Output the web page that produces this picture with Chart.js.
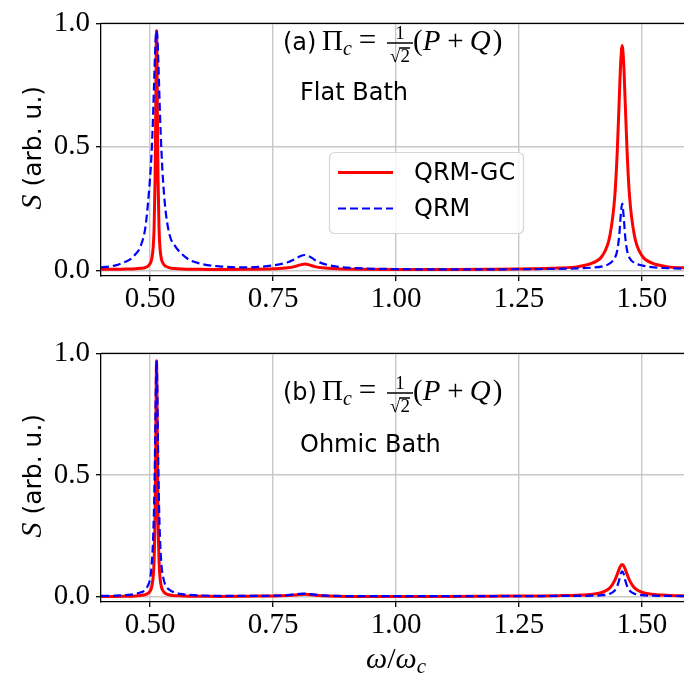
<!DOCTYPE html>
<html>
<head>
<meta charset="utf-8">
<script src="https://cdn.jsdelivr.net/npm/chart.js@4.4.1/dist/chart.umd.min.js"></script>
<style>
  html, body { margin: 0; padding: 0; background: #fff; overflow: hidden; }
  #wrap { position: relative; width: 684px; height: 681px; overflow: hidden; }
  .panel { position: absolute; left: 0; width: 700px; }
  #topBox { top: 0; height: 330px; }
  #botBox { top: 330px; height: 351px; }
</style>
</head>
<body>
<div id="wrap">
  <div class="panel" id="topBox"><canvas id="chartA" width="700" height="330"></canvas></div>
  <div class="panel" id="botBox"><canvas id="chartB" width="700" height="351"></canvas></div>
</div>
<script>
// frequency grid (omega / omega_c), denser around the resonances
const omega = [0.40, 0.43, 0.45, 0.46, 0.47, 0.48, 0.49, 0.495, 0.50, 0.503,
  0.506, 0.508, 0.510, 0.511, 0.512, 0.513, 0.514, 0.515, 0.516, 0.518,
  0.520, 0.523, 0.527, 0.532, 0.54, 0.55, 0.565, 0.58, 0.60, 0.64,
  0.70, 0.75, 0.78, 0.795, 0.805, 0.815, 0.825, 0.835, 0.85, 0.88,
  0.93, 1.00, 1.10, 1.20, 1.28, 1.33, 1.37, 1.40, 1.42, 1.435,
  1.445, 1.450, 1.454, 1.457, 1.460, 1.463, 1.466, 1.470, 1.475, 1.485,
  1.50, 1.52, 1.55, 1.60];

// (a) flat bath
const flatGC = [0.004, 0.004, 0.005, 0.005, 0.006, 0.008, 0.011, 0.016, 0.028, 0.045,
  0.09, 0.17, 0.37, 0.56, 0.82, 0.97, 0.82, 0.56, 0.37, 0.17,
  0.09, 0.045, 0.026, 0.016, 0.010, 0.007, 0.005, 0.004, 0.004, 0.003,
  0.004, 0.006, 0.010, 0.016, 0.022, 0.026, 0.021, 0.015, 0.010, 0.006,
  0.004, 0.003, 0.003, 0.004, 0.006, 0.009, 0.015, 0.030, 0.060, 0.14,
  0.30, 0.48, 0.69, 0.84, 0.91, 0.84, 0.69, 0.48, 0.30, 0.14,
  0.060, 0.030, 0.015, 0.009];
const flatQRM = [0.012, 0.020, 0.035, 0.045, 0.065, 0.095, 0.17, 0.26, 0.38, 0.48,
  0.63, 0.76, 0.88, 0.93, 0.96, 0.97, 0.96, 0.93, 0.88, 0.76,
  0.63, 0.48, 0.34, 0.23, 0.14, 0.10, 0.065, 0.042, 0.028, 0.016,
  0.012, 0.020, 0.033, 0.046, 0.057, 0.062, 0.055, 0.042, 0.028, 0.015,
  0.008, 0.005, 0.004, 0.004, 0.005, 0.006, 0.008, 0.011, 0.016, 0.028,
  0.05, 0.08, 0.14, 0.22, 0.27, 0.22, 0.14, 0.08, 0.05, 0.03,
  0.02, 0.013, 0.009, 0.006];

// (b) ohmic bath
const ohmicGC = [0.002, 0.002, 0.003, 0.003, 0.004, 0.006, 0.009, 0.014, 0.024, 0.04,
  0.08, 0.15, 0.33, 0.52, 0.80, 0.97, 0.80, 0.52, 0.33, 0.15,
  0.08, 0.04, 0.022, 0.013, 0.008, 0.005, 0.004, 0.003, 0.003, 0.002,
  0.003, 0.004, 0.006, 0.008, 0.010, 0.011, 0.009, 0.007, 0.005, 0.003,
  0.002, 0.002, 0.002, 0.003, 0.004, 0.005, 0.007, 0.011, 0.019, 0.037,
  0.068, 0.093, 0.115, 0.128, 0.133, 0.128, 0.115, 0.093, 0.068, 0.037,
  0.019, 0.011, 0.007, 0.004];
const ohmicQRM = [0.004, 0.005, 0.007, 0.009, 0.012, 0.018, 0.028, 0.045, 0.075, 0.13,
  0.24, 0.38, 0.62, 0.78, 0.91, 0.97, 0.91, 0.78, 0.62, 0.38,
  0.24, 0.13, 0.075, 0.045, 0.028, 0.018, 0.011, 0.008, 0.006, 0.004,
  0.004, 0.005, 0.007, 0.010, 0.012, 0.013, 0.011, 0.009, 0.006, 0.004,
  0.003, 0.003, 0.003, 0.003, 0.003, 0.004, 0.004, 0.005, 0.007, 0.013,
  0.026, 0.044, 0.07, 0.095, 0.105, 0.095, 0.07, 0.044, 0.026, 0.013,
  0.007, 0.005, 0.004, 0.003];

const xTicks = [0.5, 0.75, 1.0, 1.25, 1.5];
const yTicks = [0, 0.5, 1.0];
const seriesNames = ["QRM-GC", "QRM"];

const RED = "#ff0000";
const BLUE = "#0000ff";
const SERIF = s => `${s}px "Liberation Serif"`;
const SERIF_I = s => `italic ${s}px "Liberation Serif"`;
const SANS = s => `${s}px "DejaVu Sans"`;

function put(ctx, text, x, y, font, align) {
  ctx.font = font;
  ctx.textAlign = align || "left";
  ctx.fillText(text, x, y);
  return ctx.measureText(text).width;
}

// (a) Π_c = 1/√2 (P + Q)
function drawFormula(ctx, tag, base) {
  ctx.fillStyle = "#000";
  ctx.textBaseline = "alphabetic";
  put(ctx, tag, 283, base, SANS(24));
  const xPi = 322;
  const wPi = put(ctx, "\u03A0", xPi, base, SERIF(29));
  put(ctx, "c", xPi + wPi, base + 5, SERIF_I(20));
  put(ctx, "=", 367.5, base, SERIF(31), "center");
  const x = 387, fw = 26, cx = x + fw / 2;
  put(ctx, "1", cx, base - 11, SERIF(19), "center");
  ctx.font = SERIF(19);
  const wAll = ctx.measureText("\u221A2").width;
  const wRad = ctx.measureText("\u221A").width;
  put(ctx, "\u221A2", cx, base + 12.5, SERIF(19), "center");
  ctx.strokeStyle = "#000";
  ctx.lineWidth = 1.3;
  ctx.beginPath();
  ctx.moveTo(x, base - 6.5);
  ctx.lineTo(x + fw, base - 6.5);
  const sx = cx - wAll / 2;
  ctx.moveTo(sx + wRad - 1, base - 1.5);
  ctx.lineTo(sx + wAll, base - 1.5);
  ctx.stroke();
  let px = x + fw;
  px += put(ctx, "(", px, base, SERIF(29));
  px += put(ctx, "P", px, base, SERIF_I(29));
  px += 7;
  px += put(ctx, "+", px, base, SERIF(29));
  px += 6;
  px += put(ctx, "Q", px, base, SERIF_I(29));
  put(ctx, ")", px + 2, base, SERIF(29));
}

function drawYLabel(ctx, cx, cy) {
  ctx.save();
  ctx.translate(cx, cy);
  ctx.rotate(-Math.PI / 2);
  ctx.fillStyle = "#000";
  ctx.textBaseline = "alphabetic";
  ctx.font = SERIF_I(30);
  const w1 = ctx.measureText("S").width;
  ctx.font = SANS(25);
  const w2 = ctx.measureText(" (arb. u.)").width;
  const x = -(w1 + w2) / 2;
  put(ctx, "S", x, 0, SERIF_I(30));
  put(ctx, " (arb. u.)", x + w1, 0, SANS(25));
  ctx.restore();
}

function drawXLabel(ctx, cx, base) {
  ctx.fillStyle = "#000";
  ctx.textBaseline = "alphabetic";
  ctx.font = SERIF_I(30);
  const a = ctx.measureText("\u03C9").width;
  ctx.font = SERIF(30);
  const b = ctx.measureText("/").width;
  ctx.font = SERIF_I(21);
  const c = ctx.measureText("c").width;
  let x = cx - (2 * a + b + c) / 2;
  x += put(ctx, "\u03C9", x, base, SERIF_I(30));
  x += put(ctx, "/", x, base, SERIF(30));
  x += put(ctx, "\u03C9", x, base, SERIF_I(30));
  put(ctx, "c", x, base + 5, SERIF_I(21));
}

function drawLegend(ctx) {
  const x0 = 329.5, y0 = 152.5, w = 194, h = 81, r = 5;
  ctx.save();
  ctx.beginPath();
  ctx.roundRect(x0, y0, w, h, r);
  ctx.fillStyle = "rgba(255,255,255,0.8)";
  ctx.fill();
  ctx.strokeStyle = "#d6d6d6";
  ctx.lineWidth = 1.2;
  ctx.stroke();
  ctx.lineWidth = 3;
  ctx.strokeStyle = RED;
  ctx.beginPath();
  ctx.moveTo(338, 172.5);
  ctx.lineTo(393, 172.5);
  ctx.stroke();
  ctx.lineWidth = 2.2;
  ctx.strokeStyle = BLUE;
  ctx.setLineDash([8, 4]);
  ctx.beginPath();
  ctx.moveTo(338, 208.5);
  ctx.lineTo(393, 208.5);
  ctx.stroke();
  ctx.setLineDash([]);
  ctx.fillStyle = "#000";
  ctx.textBaseline = "middle";
  put(ctx, seriesNames[0], 414, 174, SANS(24));
  put(ctx, seriesNames[1], 414, 210, SANS(24));
  ctx.restore();
}

// frame top, annotations, axis label and legend
const decor = {
  id: "decor",
  afterDraw(chart, args, opts) {
    const ctx = chart.ctx;
    const a = chart.chartArea;
    ctx.save();
    ctx.strokeStyle = "#000";
    ctx.lineWidth = 1.3;
    ctx.beginPath();
    ctx.moveTo(a.left, a.top);
    ctx.lineTo(a.right, a.top);
    ctx.lineTo(a.right, a.bottom);
    ctx.stroke();
    drawYLabel(ctx, 41, (a.top + a.bottom) / 2 - 2);
    drawFormula(ctx, opts.tag, opts.formulaBase);
    ctx.fillStyle = "#000";
    ctx.textBaseline = "alphabetic";
    put(ctx, opts.bath, 300, opts.bathBase, SANS(24));
    if (opts.legend) drawLegend(ctx);
    if (opts.xLabel) drawXLabel(ctx, (a.left + a.right) / 2, 338);
    ctx.restore();
  }
};

function makeChart(id, gc, qrm, cfg) {
  const pts = arr => omega.map((w, i) => ({ x: w, y: arr[i] }));
  return new Chart(document.getElementById(id), {
    type: "line",
    data: {
      datasets: [
        {
          label: seriesNames[0],
          data: pts(gc),
          borderColor: RED,
          borderWidth: 3,
          pointRadius: 0,
          cubicInterpolationMode: "monotone",
          order: 1
        },
        {
          label: seriesNames[1],
          data: pts(qrm),
          borderColor: BLUE,
          borderWidth: 2.2,
          borderDash: [8, 4],
          pointRadius: 0,
          cubicInterpolationMode: "monotone",
          order: 0
        }
      ]
    },
    options: {
      responsive: false,
      animation: false,
      events: [],
      devicePixelRatio: 1,
      layout: { padding: { top: cfg.padTop, right: 9, left: 0, bottom: 0 } },
      plugins: {
        legend: { display: false },
        tooltip: { enabled: false },
        decor: cfg
      },
      scales: {
        x: {
          type: "linear",
          min: 0.4,
          max: 1.6,
          afterBuildTicks: s => { s.ticks = xTicks.map(v => ({ value: v })); },
          afterFit: s => { s.height = cfg.xAxisH; },
          ticks: {
            callback: v => v.toFixed(2),
            font: { family: "Liberation Serif", size: 29 },
            color: "#000",
            padding: 1,
            maxRotation: 0,
            autoSkip: false
          },
          grid: { color: "#c8c8c8", lineWidth: 1.4, tickColor: "#000", tickLength: 5, tickWidth: 1.3 },
          border: { color: "#000", width: 1.3 }
        },
        y: {
          min: cfg.yMin,
          max: 1.0,
          afterBuildTicks: s => { s.ticks = yTicks.map(v => ({ value: v })); },
          afterFit: s => { s.width = 101; },
          ticks: {
            callback: v => v.toFixed(1),
            font: { family: "Liberation Serif", size: 29 },
            color: "#000",
            padding: 6
          },
          grid: { color: "#c8c8c8", lineWidth: 1.4, tickColor: "#000", tickLength: 5, tickWidth: 1.3 },
          border: { color: "#000", width: 1.3 }
        }
      }
    },
    plugins: [decor]
  });
}

makeChart("chartA", flatGC, flatQRM, {
  tag: "(a)", bath: "Flat Bath", formulaBase: 49.5, bathBase: 100,
  legend: true, xLabel: false, padTop: 14, xAxisH: 54, yMin: -0.023
});
makeChart("chartB", ohmicGC, ohmicQRM, {
  tag: "(b)", bath: "Ohmic Bath", formulaBase: 69.5, bathBase: 121.5,
  legend: false, xLabel: true, padTop: 10, xAxisH: 79, yMin: -0.021
});
</script>
</body>
</html>
